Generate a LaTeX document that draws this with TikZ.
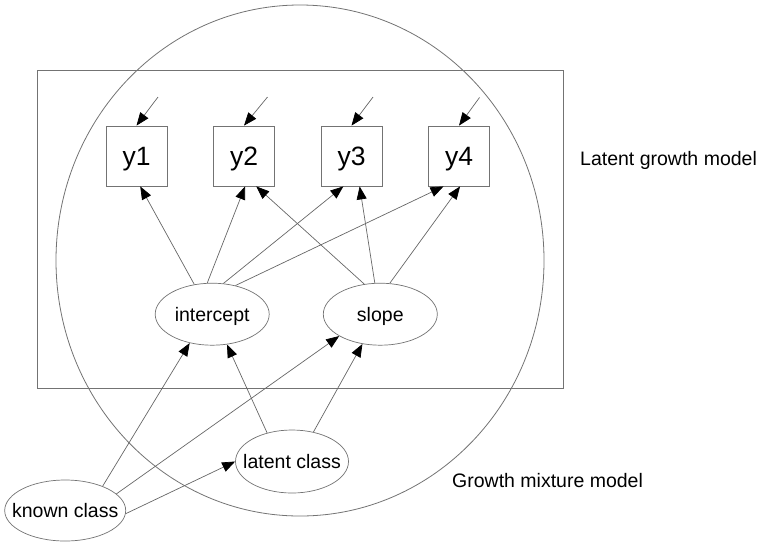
\documentclass[tikz,border=0pt]{standalone}
\usepackage{fontspec}
\setmainfont{Liberation Sans}
\usetikzlibrary{arrows.meta,shapes.geometric}
\begin{document}
\begin{tikzpicture}[x=1pt,y=-1pt,
  conn/.style={draw=black!60, line width=0.7pt},
  arr/.style={conn, -{Triangle[length=13pt,width=10pt,color=black,fill=black]}},
  frame/.style={draw=black!55, line width=0.8pt},
  obs/.style={draw=black!55, line width=0.8pt, fill=white, minimum width=61pt, minimum height=60pt, inner sep=0pt, font=\fontsize{26.5}{30}\selectfont, text height=19pt, text depth=0pt},
  lat/.style={ellipse, draw=black!55, line width=0.7pt, fill=white, inner sep=0pt, font=\fontsize{19.5}{23}\selectfont, text height=14pt, text depth=0pt},
  lbl/.style={font=\fontsize{19.5}{23}\selectfont, inner sep=0pt, anchor=base west}]
\useasboundingbox (0,0) rectangle (762,547);
% frames
\draw[frame] (300,260.5) ellipse [x radius=244pt, y radius=255.5pt];
\draw[frame] (37.5,70.7) rectangle (563.5,388.5);
% observed
\node[obs] (y1) at (136.5,156) {y1};
\node[obs] (y2) at (244,156) {y2};
\node[obs] (y3) at (351.5,156) {y3};
\node[obs] (y4) at (459,156) {y4};
% latent
\node[lat, minimum width=114pt, minimum height=62pt] (int) at (212.2,314.2) {\makebox[0pt]{intercept}};
\node[lat, minimum width=114pt, minimum height=62pt] (slo) at (380.3,314.2) {\makebox[0pt]{slope}};
\node[lat, minimum width=113pt, minimum height=63pt] (lc) at (292,461.5) {\makebox[0pt]{latent class}};
\node[lat, minimum width=121pt, minimum height=61pt] (kc) at (65.2,510.5) {\makebox[0pt]{known class}};
% error arrows
\coordinate (e1) at (158,97);
\coordinate (e2) at (267.5,97);
\coordinate (e3) at (373,97);
\coordinate (e4) at (479.5,97.5);
\draw[arr] (e1) -- (y1.north);
\draw[arr] (e2) -- (y2.north);
\draw[arr] (e3) -- (y3.north);
\draw[arr] (e4) -- (y4.north);
% loadings
\draw[arr] (int.121.5) -- (y1.-83);
\draw[arr] (int.99) -- (y2.-88);
\draw[arr] (int.70) -- (y3.-105);
\draw[arr] (int.51) -- (y4.-117);
\draw[arr] (slo.118) -- (y2.-68);
\draw[arr] (slo.100) -- (y3.-75);
\draw[arr] (slo.73) -- (y4.-88.5);
% class effects
\draw[arr] (kc.33) -- (int.232);
\draw[arr] (kc.18) -- (slo.208);
\draw[arr] (kc.-3) -- (lc.180);
\draw[arr] (lc.131) -- (int.-64);
\draw[arr] (lc.54) -- (slo.-121);
% labels
\node[lbl] (t1) at (580,165) {Latent growth model};
\node[lbl] (t2) at (452,487.3) {Growth mixture model};
\end{tikzpicture}
\end{document}
